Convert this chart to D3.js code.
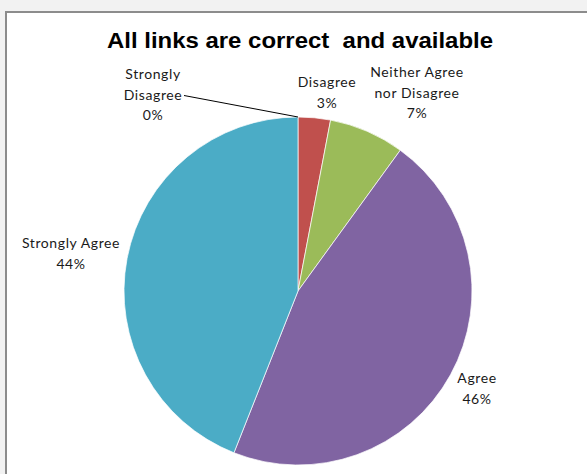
<!DOCTYPE html>
<html>
<head>
<meta charset="utf-8">
<script src="https://cdn.jsdelivr.net/npm/d3@7/dist/d3.min.js"></script>
<style>
  html, body { margin: 0; padding: 0; background: #f2f2f2; }
  svg { display: block; }
</style>
</head>
<body>
<svg id="chart" width="587" height="474"></svg>
<script>
// Survey responses for "All links are correct and available"
const categories = ["Strongly Disagree", "Disagree", "Neither Agree nor Disagree", "Agree", "Strongly Agree"];
const percents = [0, 3, 7, 46, 44];
const colors = ["#4F81BD", "#C0504D", "#9BBB59", "#8064A2", "#4BACC6"];

// Label text lines per category (value line appended from the data)
const labelLines = [
  ["Strongly", "Disagree"],
  ["Disagree"],
  ["Neither Agree", "nor Disagree"],
  ["Agree"],
  ["Strongly Agree"]
];
// Label anchor offsets (dx, first-baseline dy) relative to the pie centre
const labelOffsets = [
  [-145, -212],
  [29, -204],
  [119, -214],
  [179, 92],
  [-227, -43]
];

const title = "All links are correct  and available";

const svg = d3.select("#chart");
const W = 587, H = 474;

// Chart frame
svg.append("rect")
  .attr("x", 6).attr("y", 12)
  .attr("width", W + 10).attr("height", H + 10)
  .attr("fill", "#ffffff")
  .attr("stroke", "#8c8c8c")
  .attr("stroke-width", 2);

// Title
svg.append("text")
  .attr("x", 300).attr("y", 48)
  .attr("text-anchor", "middle")
  .style("white-space", "pre")
  .attr("font-family", "'Liberation Sans', Arial, sans-serif")
  .attr("font-weight", "bold")
  .attr("font-size", 21.5)
  .attr("textLength", 386)
  .attr("lengthAdjust", "spacingAndGlyphs")
  .attr("fill", "#000")
  .text(title);

const cx = 298, cy = 291, r = 174;
const g = svg.append("g").attr("transform", `translate(${cx},${cy})`);

const pie = d3.pie().sort(null).value(d => d.value);
const data = categories.map((c, i) => ({ name: c, value: percents[i], color: colors[i], i }));
const arcs = pie(data);
const arc = d3.arc().innerRadius(0).outerRadius(r);

g.selectAll("path.slice")
  .data(arcs)
  .join("path")
  .attr("class", "slice")
  .attr("d", arc)
  .attr("fill", d => d.data.color)
  .attr("stroke", d => d.data.value > 0 ? "#ffffff" : "none")
  .attr("stroke-width", 0.7);

// Data labels
const lineH = 20.5;
const labels = g.selectAll("g.label")
  .data(arcs)
  .join("g")
  .attr("class", "label")
  .attr("transform", d => `translate(${labelOffsets[d.data.i][0]},${labelOffsets[d.data.i][1]})`);

labels.each(function(d) {
  const lines = labelLines[d.data.i].concat([d3.format("d")(d.data.value) + "%"]);
  const t = d3.select(this).append("text")
    .attr("text-anchor", "middle")
    .attr("font-family", "Lato, 'Open Sans', sans-serif")
    .attr("font-size", 14)
    .attr("letter-spacing", 0.6)
    .attr("fill", "#1a1a1a");
  lines.forEach((ln, k) => {
    t.append("tspan").attr("x", 0).attr("y", k * lineH).text(ln);
  });
});

// Leader line for the zero-size slice, from its label to the slice's edge
const zero = arcs[0];
const edgeAngle = (zero.startAngle + zero.endAngle) / 2;
const lo = labelOffsets[0];
g.append("line")
  .attr("x1", lo[0] + 31).attr("y1", lo[1] + lineH - 4)
  .attr("x2", r * Math.sin(edgeAngle))
  .attr("y2", -r * Math.cos(edgeAngle))
  .attr("stroke", "#000")
  .attr("stroke-width", 1);
</script>
</body>
</html>
